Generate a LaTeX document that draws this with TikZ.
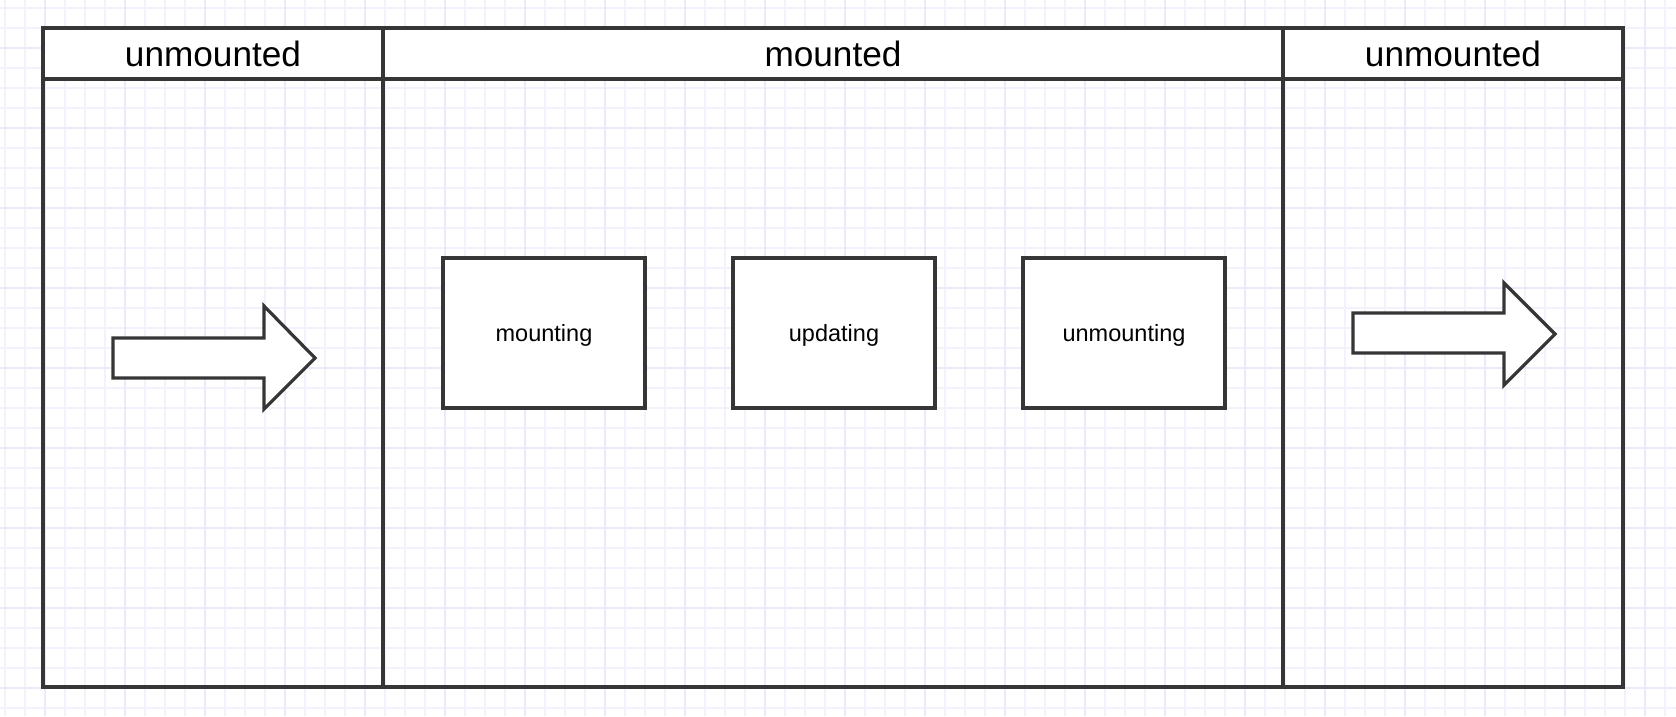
\documentclass[tikz,border=0pt]{standalone}
\usepackage{fontspec}
\setmainfont{Liberation Sans}
\definecolor{gridminor}{RGB}{242,242,253}
\definecolor{gridmajor}{RGB}{234,234,251}
\definecolor{ink}{RGB}{54,54,54}
\tikzset{
  frame/.style={draw=ink, line width=3.5pt},
  header/.style={draw=ink, line width=3.5pt, fill=white, inner sep=0pt,
    text height=25pt, text depth=0pt,
    font=\fontsize{35.2}{40}\selectfont},
  stagebox/.style={draw=ink, line width=3.2pt, fill=white, inner sep=0pt,
    text height=17pt, text depth=0pt,
    minimum width=202pt, minimum height=150pt, font=\fontsize{23.5}{28}\selectfont},
  bigarrow/.style={draw=ink, line width=3.2pt, fill=white, line join=miter},
}
\begin{document}
\begin{tikzpicture}[x=1pt,y=-1pt]
\useasboundingbox (0,0) rectangle (1676,716);
\fill[white] (0,0) rectangle (1676,716);
% grid
\foreach \k in {0,...,83} {\draw[gridminor, line width=1.2pt] ({5+20*\k},0) -- ({5+20*\k},716);}
\foreach \k in {0,...,35} {\draw[gridminor, line width=1.2pt] (0,{8+20*\k}) -- (1676,{8+20*\k});}
\foreach \k in {0,...,20} {\draw[gridmajor, line width=1.6pt] ({45+80*\k},0) -- ({45+80*\k},716);}
\foreach \k in {-1,...,8} {\draw[gridmajor, line width=1.6pt] (0,{48+80*\k}) -- (1676,{48+80*\k});}
% lanes
\draw[frame] (43,28) rectangle (383,687);
\draw[frame] (383,28) rectangle (1283,687);
\draw[frame] (1283,28) rectangle (1623,687);
% headers
\node[header, minimum width=340pt, minimum height=51pt] (h1) at (213,53.5) {unmounted};
\node[header, minimum width=900pt, minimum height=51pt] (h2) at (833,53.5) {mounted};
\node[header, minimum width=340pt, minimum height=51pt] (h3) at (1453,53.5) {unmounted};
% stage boxes
\node[stagebox] (mounting) at (544,333) {mounting};
\node[stagebox] (updating) at (834,333) {updating};
\node[stagebox] (unmounting) at (1124,333) {unmounting};
% arrows
\draw[bigarrow] (113,338) -- (264,338) -- (264,306) -- (315,358) -- (264,409) -- (264,378) -- (113,378) -- cycle;
\draw[bigarrow] (1353,313) -- (1504,313) -- (1504,283) -- (1555,334) -- (1504,385) -- (1504,353) -- (1353,353) -- cycle;
\end{tikzpicture}
\end{document}
